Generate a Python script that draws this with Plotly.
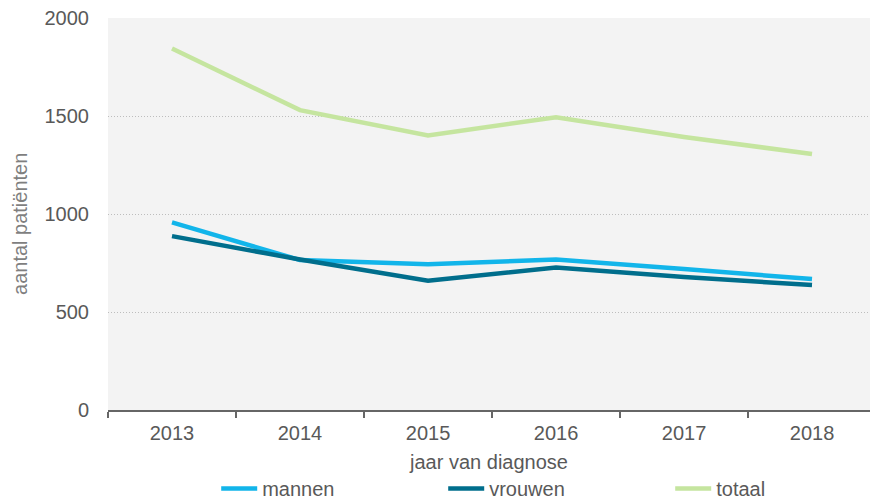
import plotly.graph_objects as go

years = ["2013", "2014", "2015", "2016", "2017", "2018"]
mannen = [957, 765, 744, 768, 719, 668]
vrouwen = [887, 768, 659, 727, 678, 638]
totaal = [1844, 1530, 1401, 1494, 1393, 1306]
y_ticks = [0, 500, 1000, 1500, 2000]

series = [
    ("mannen", mannen, "#12B5EA"),
    ("vrouwen", vrouwen, "#006E8C"),
    ("totaal", totaal, "#C5E59F"),
]

fig = go.Figure()
for name, vals, col in series:
    fig.add_trace(go.Scatter(
        x=years, y=vals, name=name, mode="lines",
        line=dict(color=col, width=4.5),
    ))

font_fam = "Liberation Sans, Arial, sans-serif"

fig.update_layout(
    width=870, height=500,
    margin=dict(l=108, r=0, t=18, b=90, autoexpand=False),
    paper_bgcolor="white",
    plot_bgcolor="#F3F3F3",
    font=dict(family=font_fam, color="#595959", size=20),
    showlegend=True,
    legend=dict(
        orientation="h", x=0.142, xanchor="left", y=-0.2, yanchor="middle",
        font=dict(size=20, color="#595959"),
        entrywidth=176, entrywidthmode="pixels",
        itemwidth=36, tracegroupgap=0,
        bgcolor="rgba(0,0,0,0)",
    ),
    xaxis=dict(
        type="category",
        range=[-0.5, 5.453],
        automargin=False,
        showgrid=False,
        showline=True, linecolor="#666666", linewidth=2,
        ticks="outside", tickson="boundaries", ticklen=6, tickcolor="#666666", tickwidth=1.5,
        ticklabelstandoff=4,
        tickfont=dict(size=20, color="#595959"),
        title=dict(text="jaar van diagnose", font=dict(size=20, color="#595959"), standoff=12),
        zeroline=False,
    ),
    yaxis=dict(
        range=[0, 2000],
        tickvals=y_ticks,
        automargin=False,
        showgrid=True, gridcolor="#BDBDBD", griddash="1px,2px", gridwidth=1,
        zeroline=False, showline=False,
        ticks="", ticklabelstandoff=18,
        tickfont=dict(size=20, color="#595959"),
    ),
    annotations=[dict(
        text="aantal patiënten", textangle=-90,
        xref="paper", yref="paper", x=-0.1155, y=0.4745,
        xanchor="center", yanchor="middle", showarrow=False,
        font=dict(size=20, color="#7F7F7F"),
    )],
)

fig.write_html(
    "out.html",
    config={"displayModeBar": False},
    post_script="document.body.style.margin='0';document.body.style.overflow='hidden';"
                "document.documentElement.style.overflow='hidden';",
)
